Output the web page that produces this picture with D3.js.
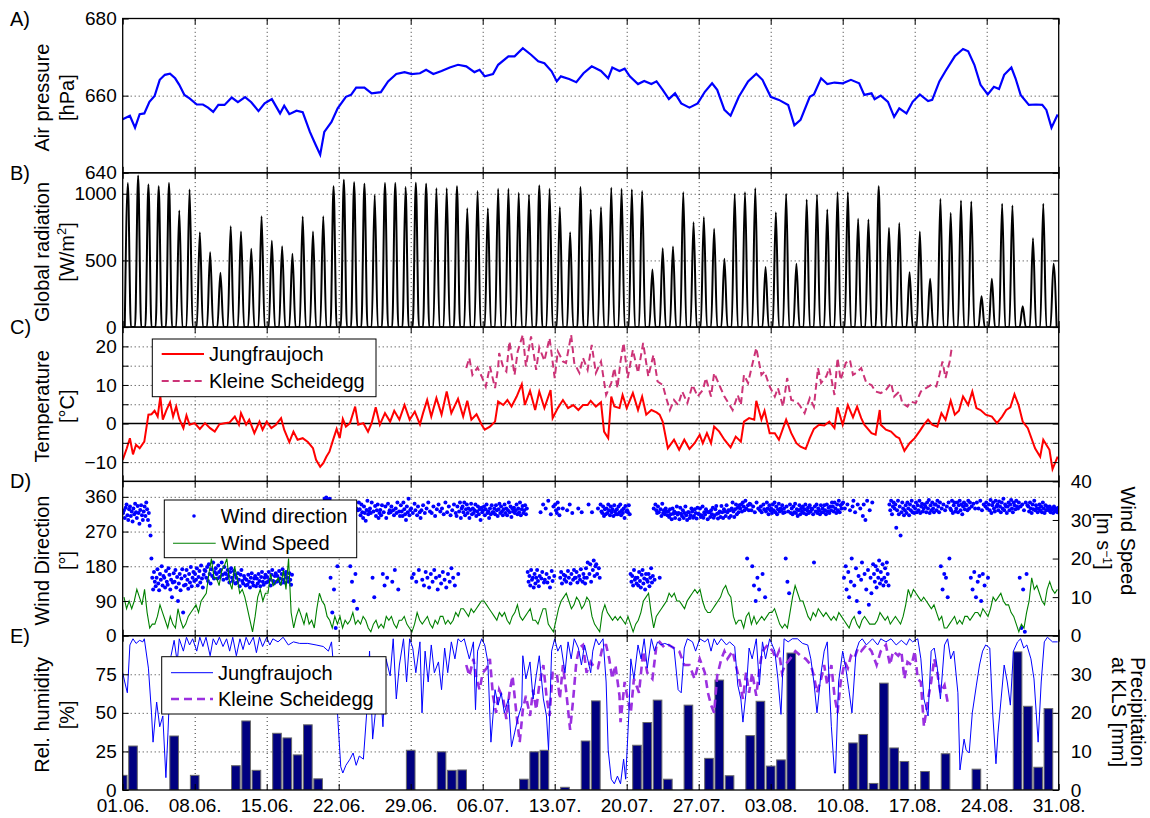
<!DOCTYPE html>
<html><head><meta charset="utf-8">
<script src="https://cdn.jsdelivr.net/npm/d3@7"></script>
<style>
body{margin:0;background:#fff;}
svg text{font-family:"Liberation Sans",Arial,Helvetica,sans-serif;fill:#000;}
.grid line{stroke:#333;stroke-width:1;stroke-dasharray:1 3;}
.grid .domain{display:none;}
.ax .domain{display:none;}
.ax line{stroke:#000;stroke-width:1;}
</style></head><body>
<svg id="chart" width="1150" height="818"></svg>
<script>
// ---- time axis (days since 01.06.) ----
const weekDays = [0, 7, 14, 21, 28, 35, 42, 49, 56, 63, 70, 77, 84, 91];
const weekLabels = ["01.06.", "08.06.", "15.06.", "22.06.", "29.06.", "06.07.", "13.07.", "20.07.", "27.07.", "03.08.", "10.08.", "17.08.", "24.08.", "31.08."];

// ---- A) air pressure [day, hPa] ----
const pressure = [[0,653.9],[0.7,654.8],[1.2,651.7],[1.65,655.2],[2.1,655.4],[2.6,658.4],[3.1,659.9],[3.6,664.1],[4.1,665.4],[4.6,665.7],[5.1,664.5],[5.5,662.8],[6.0,660.2],[6.5,659.3],[7.2,657.7],[7.8,657.7],[8.3,656.9],[8.8,655.8],[9.3,657.6],[9.9,657.6],[10.6,659.5],[11.2,658.3],[11.9,659.6],[12.5,658.3],[13.2,656.0],[13.8,658.0],[14.5,659.1],[15.3,655.4],[15.7,657.4],[16.2,655.2],[16.9,656.1],[17.5,655.7],[18.2,650.6],[18.7,647.6],[19.2,644.7],[19.6,650.6],[20.3,653.2],[20.9,656.7],[21.7,659.7],[22.2,660.2],[22.7,662.1],[23.5,662.1],[24.2,660.6],[25.1,660.9],[25.8,663.7],[26.6,665.6],[27.4,666.1],[28.1,665.6],[28.9,665.8],[29.5,666.7],[30.2,665.6],[31.0,666.4],[31.8,667.3],[32.6,668.0],[33.4,667.6],[34.2,666.1],[34.7,666.7],[35.2,665.0],[36.0,665.6],[36.5,668.0],[37.5,670.2],[38.1,670.2],[38.9,672.3],[39.7,670.6],[40.4,668.9],[41.0,668.4],[41.7,666.3],[42.2,663.7],[42.6,665.0],[43.4,664.3],[44.1,663.5],[44.8,665.8],[45.6,667.6],[46.5,666.4],[47.2,664.5],[47.6,667.3],[48.3,666.4],[48.8,667.0],[49.3,665.0],[50.1,663.0],[50.7,663.8],[51.4,663.0],[51.9,663.7],[52.5,661.5],[53.1,659.1],[53.7,660.6],[54.3,658.0],[55.1,656.9],[55.9,658.0],[56.6,661.0],[57.3,663.2],[57.8,661.5],[58.5,656.3],[59.1,654.8],[59.9,659.7],[60.8,663.7],[61.6,665.7],[62.2,664.1],[63.0,659.7],[63.8,658.9],[64.7,657.6],[65.3,652.3],[65.9,653.7],[66.8,659.7],[67.2,660.3],[67.9,664.5],[68.5,663.0],[69.2,663.4],[70.0,663.2],[70.8,664.1],[71.6,663.2],[72.1,660.2],[72.8,660.6],[73.1,659.1],[73.7,660.0],[74.4,658.4],[75.0,654.5],[75.5,656.7],[76.2,655.4],[76.8,658.4],[77.5,660.3],[78.3,658.6],[78.7,658.9],[79.4,663.7],[80.0,666.4],[80.9,670.2],[81.7,672.1],[82.2,671.5],[82.8,668.0],[83.4,662.8],[84.1,660.3],[84.7,662.3],[85.2,661.7],[85.7,665.4],[86.4,667.3],[86.8,664.5],[87.3,660.2],[88.1,657.6],[88.8,657.7],[89.4,657.6],[89.8,656.3],[90.3,651.7],[90.9,655.1]];
const pressureTicks = [640, 660, 680];

// ---- B) global radiation: daily noon maximum [W/m2] ----
const radPeak = [1080,1137,1070,1057,1080,875,1032,712,562,407,757,717,587,832,647,607,550,830,717,832,1057,1105,1087,1075,992,1080,1080,1050,1082,1075,1042,1042,1057,892,1020,892,1037,1037,1007,995,1062,1037,900,712,1050,882,
900,1045,1037,1032,1020,432,592,605,1012,787,825,737,512,1000,1012,1042,450,862,1000,475,957,995,882,1012,1012,812,807,1057,745,780,412,717,362,962,857,950,942,232,362,925,912,157,667,925,475];
const sunrise = 0.2, noon = 0.5, sunset = 0.8;   // fraction of the day
const radTicks = [0, 500, 1000];

// ---- C) temperature [day, °C] ----
const tempJfj = [[0,-9.4],[0.4,-6.4],[0.7,-3.8],[1.0,-8.0],[1.3,-5.5],[1.65,-6.4],[2.1,-4.7],[2.5,2.3],[2.8,2.4],[3.1,3.3],[3.4,1.8],[3.66,7.0],[3.9,1.0],[4.25,3.5],[4.6,5.5],[4.9,1.8],[5.2,4.4],[5.5,1.2],[5.9,-1.2],[6.2,2.1],[6.5,-0.3],[7.0,0.1],[7.5,-1.4],[8.0,0.1],[8.5,-1.2],[8.95,-2.1],[9.4,-0.2],[9.9,0.1],[10.4,0.3],[10.9,1.8],[11.3,-0.3],[11.5,2.7],[12.0,-0.3],[12.3,1.0],[12.8,-2.5],[13.3,0.5],[13.6,-1.6],[14.0,0.5],[14.45,-1.2],[14.9,-0.3],[15.4,1.4],[15.7,-1.6],[16.2,-4.8],[16.6,-2.1],[17.0,-4.2],[17.5,-3.8],[18.0,-4.8],[18.5,-6.4],[18.8,-9.4],[19.2,-11.2],[19.5,-10.3],[19.8,-8.6],[20.1,-7.3],[20.4,-4.7],[20.8,-1.4],[21.1,-3.8],[21.4,1.2],[21.7,-0.8],[22.1,0.1],[22.6,4.4],[22.9,-0.3],[23.4,0.1],[23.85,-2.1],[24.2,0.1],[24.6,4.2],[25.0,-0.3],[25.5,2.7],[26.0,0.5],[26.4,3.3],[26.9,1.0],[27.4,4.8],[27.9,1.0],[28.4,3.1],[28.9,-0.2],[29.2,2.7],[29.6,6.1],[30.0,1.8],[30.5,6.6],[31.0,2.3],[31.5,8.3],[31.95,2.7],[32.6,6.4],[33.1,1.8],[33.5,5.9],[33.9,1.0],[34.4,2.4],[34.9,-0.3],[35.2,-1.6],[35.7,-0.8],[36.2,0.5],[36.5,5.7],[37.0,4.8],[37.4,6.1],[37.8,4.4],[38.3,7.0],[38.8,10.2],[39.1,4.8],[39.6,8.5],[40.1,3.5],[40.5,8.3],[41.0,4.0],[41.6,8.7],[41.8,1.4],[42.3,4.0],[42.8,6.1],[43.3,4.0],[43.8,4.8],[44.3,3.5],[44.75,4.8],[45.2,4.8],[45.5,5.9],[46.0,4.4],[46.5,5.5],[46.8,-2.1],[47.2,-3.8],[47.5,7.0],[47.8,4.4],[48.3,4.0],[48.6,7.4],[49.0,4.0],[49.6,7.9],[50.1,3.5],[50.5,7.0],[50.9,2.3],[51.4,3.5],[51.9,2.9],[52.2,2.3],[52.5,0.5],[53.0,-6.4],[53.6,-4.2],[54.1,-6.8],[54.6,-4.2],[55.1,-6.6],[55.6,-5.1],[56.1,-2.9],[56.4,-5.1],[56.8,-2.5],[57.2,-5.1],[57.5,-0.8],[58.0,-2.1],[58.5,-4.2],[59.1,-6.2],[59.6,-3.4],[60.1,-4.7],[60.4,0.5],[60.9,1.4],[61.4,1.0],[61.6,5.9],[62.1,1.0],[62.4,3.3],[62.9,-2.5],[63.4,-2.5],[63.8,-4.2],[64.5,1.0],[65.0,-2.5],[65.5,-5.1],[65.9,-6.0],[66.4,-6.6],[66.8,-3.8],[67.2,-1.4],[67.7,-0.3],[68.2,-0.5],[68.7,0.5],[69.2,-1.2],[69.5,4.2],[70.0,-0.3],[70.5,4.8],[71.0,1.6],[71.4,4.4],[71.8,1.4],[72.1,-0.3],[72.8,-2.5],[73.2,-2.9],[73.6,3.5],[73.7,-0.3],[74.2,-1.6],[74.7,-2.1],[75.2,-3.4],[75.5,-3.8],[76.0,-7.1],[76.5,-5.1],[77.0,-3.8],[77.5,-1.9],[77.9,-0.3],[78.3,1.0],[78.7,-0.3],[79.2,-0.8],[79.6,2.7],[80.0,1.0],[80.5,5.9],[80.9,2.3],[81.3,3.3],[81.7,7.0],[82.2,4.8],[82.6,8.3],[83.0,4.0],[83.4,3.5],[83.9,2.3],[84.5,1.8],[85.0,0.1],[85.5,1.8],[85.9,3.5],[86.3,4.2],[86.7,7.6],[87.1,4.8],[87.5,0.5],[88.0,-1.2],[88.7,-6.4],[89.2,-8.6],[89.5,-4.2],[90.1,-6.8],[90.4,-11.8],[90.9,-8.6]];
const tempKls = [[33.4,14.4],[33.7,17.0],[34.0,12.6],[34.5,14.5],[34.9,12.2],[35.3,9.6],[35.7,14.8],[36.2,9.2],[36.5,14.5],[36.6,18.3],[37.0,14.5],[37.3,13.5],[37.6,21.3],[38.1,12.6],[38.4,18.7],[38.9,23.0],[39.2,14.8],[39.7,22.6],[40.2,13.9],[40.5,19.7],[41.0,16.3],[41.5,22.2],[42.0,11.8],[42.3,18.7],[42.8,16.1],[43.1,15.7],[43.6,23.0],[43.9,15.7],[44.4,13.1],[44.75,17.0],[45.2,13.9],[45.6,20.4],[46.0,13.1],[46.5,16.1],[47.0,7.4],[47.5,10.5],[47.8,14.4],[48.1,9.2],[48.4,16.1],[48.7,20.9],[49.1,11.8],[49.6,19.1],[50.1,13.1],[50.6,20.9],[51.1,12.2],[51.6,17.8],[52.0,10.9],[52.5,10.0],[52.8,7.0],[53.2,3.5],[53.6,6.1],[54.0,4.8],[54.4,8.3],[54.9,5.3],[55.4,10.0],[55.9,7.0],[56.4,8.7],[56.7,11.8],[57.2,7.0],[57.5,13.1],[58.0,10.0],[58.5,7.0],[58.8,5.7],[59.3,3.5],[59.8,7.4],[60.1,4.8],[60.4,12.6],[60.8,10.5],[61.2,15.2],[61.6,19.6],[62.1,12.6],[62.4,13.5],[62.9,9.6],[63.4,7.0],[63.7,9.2],[64.2,4.4],[64.6,11.8],[65.0,6.1],[65.5,5.7],[65.8,4.8],[66.3,2.7],[66.8,6.6],[67.2,4.4],[67.6,14.4],[67.9,10.5],[68.4,12.2],[68.7,14.4],[69.2,7.4],[69.5,17.0],[69.8,11.3],[70.3,15.7],[70.7,16.5],[71.0,12.6],[71.3,13.1],[71.8,14.4],[72.3,10.5],[72.8,10.0],[73.2,8.3],[73.7,7.9],[74.2,8.7],[74.7,10.5],[75.0,7.0],[75.5,8.3],[75.8,5.3],[76.3,4.4],[76.6,5.7],[77.1,5.3],[77.6,8.3],[78.1,9.2],[78.6,10.0],[79.1,9.6],[79.4,12.6],[79.7,16.1],[80.0,11.8],[80.4,16.1],[80.6,19.6]];
const tempTicks = [-10, -5, 0, 5, 10, 15, 20];
const tempTickLabels = ["\u221210", "", "0", "", "10", "", "20"];

// ---- D) wind direction [°], 2-hourly, one row per day (null = no data) ----
const windDir = [
318,325,305,332,340,312,300,328,335,310,322,296,
330,315,342,320,305,336,318,290,326,338,312,300,
322,335,310,345,328,300,318,285,260,200,150,120,
165,140,128,150,172,135,118,160,145,180,130,155,
150,125,168,140,132,175,158,120,145,100,138,162,
140,170,125,152,90,135,160,118,148,172,60,130,
155,132,170,145,122,160,138,178,128,150,165,142,
160,145,175,130,152,168,138,182,148,125,158,170,
168,150,178,142,185,160,135,172,155,190,148,165,
175,160,148,182,165,152,170,190,158,145,178,162,
160,148,170,155,138,165,175,150,142,168,158,135,
150,138,162,145,128,158,170,142,135,155,148,130,
145,132,158,140,125,150,162,138,130,148,155,128,
148,135,160,142,128,152,165,140,132,150,158,138,
152,140,165,145,130,158,170,142,135,155,162,140,
155,142,168,148,135,160,172,145,138,158,165,150,
150,140,162,145,132,158,null,null,null,null,null,null,
null,null,null,null,null,null,null,null,null,null,null,null,
null,null,null,null,null,null,null,null,null,null,null,null,
null,null,null,null,null,null,null,355,350,358,345,352,
340,355,150,330,60,345,120,325,20,338,180,320,
330,318,342,325,310,335,320,300,328,345,315,322,
335,180,320,140,342,90,318,160,330,70,325,345,
328,312,340,320,305,335,318,298,326,350,315,322,
330,318,345,150,322,100,336,310,325,340,305,318,
326,312,338,160,320,130,335,305,150,342,318,325,
320,335,140,325,312,170,330,318,345,120,322,310,
338,322,310,345,328,315,300,335,320,355,312,326,
330,150,318,160,342,325,140,312,335,170,320,305,
325,145,338,130,318,165,330,150,345,125,322,160,
318,140,335,170,310,150,328,120,340,155,322,135,
330,165,315,145,345,125,320,160,335,140,312,175,
325,150,340,130,318,310,335,160,322,345,305,330,
335,320,345,312,328,340,318,330,305,326,342,315,
330,318,325,340,310,322,335,315,328,300,332,320,
325,335,312,328,340,318,322,305,330,315,338,320,
320,330,315,338,325,310,328,342,318,335,322,312,
328,340,318,330,312,325,345,320,335,308,330,322,
332,318,325,340,315,330,320,345,312,328,336,318,
325,338,315,330,165,140,155,130,170,145,150,125,
160,135,150,170,142,128,155,320,148,165,340,138,
145,330,160,138,350,150,125,315,168,142,335,155,
340,325,318,345,330,312,150,165,135,330,158,145,
155,140,325,168,150,340,135,160,318,145,170,150,
150,165,138,330,155,145,172,320,140,160,150,135,
175,150,190,340,160,185,140,320,170,195,155,180,
185,160,330,175,150,340,322,318,335,310,328,315,
330,318,340,325,312,335,320,328,310,338,322,315,
328,315,335,320,340,312,325,318,330,305,336,322,
325,320,338,315,160,140,155,130,170,145,150,135,
150,130,165,142,125,158,170,135,148,120,160,145,
140,160,128,150,175,138,155,330,145,340,325,318,
335,320,150,328,310,342,318,325,315,330,322,312,
322,308,328,315,302,330,316,322,305,318,335,314,
318,302,332,316,310,325,305,318,335,312,300,320,
320,305,312,330,322,306,310,328,318,304,332,316,
315,330,308,312,335,306,320,314,328,322,302,320,
320,308,325,315,332,306,312,328,336,316,304,318,
322,308,336,320,305,328,322,310,338,320,325,306,
325,310,330,345,322,308,328,340,315,332,320,338,
330,340,322,345,335,325,350,330,200,338,325,342,
340,325,180,335,130,320,90,345,150,330,120,325,
335,320,160,340,328,100,322,345,330,315,338,325,
330,318,340,325,345,320,335,315,328,342,322,330,
325,338,318,330,320,200,335,140,322,110,340,318,
330,315,335,320,342,318,328,310,325,338,315,330,
322,335,318,328,340,315,325,332,318,338,322,330,
328,315,190,335,322,340,318,330,325,315,338,320,
330,320,338,325,315,340,322,332,318,335,325,345,
335,322,345,330,318,340,325,350,320,338,330,342,
345,150,330,180,120,340,165,100,325,140,200,335,
350,130,320,175,90,340,155,60,330,145,190,310,
340,160,300,120,350,170,80,325,150,110,345,185,
160,140,180,125,170,150,195,135,165,145,185,130,
150,175,140,190,160,130,340,325,350,315,335,345,
330,340,280,325,350,315,335,260,320,345,330,312,
325,338,318,345,330,312,340,325,350,320,335,318,
330,345,320,338,325,350,318,335,342,322,330,340,
335,320,345,330,352,318,338,325,345,330,320,340,
340,325,350,335,320,345,180,330,120,340,160,325,
150,335,100,345,200,330,325,350,318,338,345,322,
330,345,320,338,350,325,340,315,335,345,328,340,
338,325,350,330,345,150,335,120,342,165,330,100,
345,140,330,155,350,90,325,160,340,130,335,345,
330,150,340,325,352,318,338,345,330,322,350,335,
340,325,348,335,320,345,330,355,325,340,335,318,
335,345,325,340,352,330,320,345,338,328,350,335,
330,345,150,335,20,340,120,325,10,345,160,338,
335,322,345,330,318,340,328,350,325,338,330,320,
330,340,325,335,320,345,330,318,338,325,335,328,
325,335,320,330,328,318,335,322,330,325,320,332];
const dirPerDay = 12;
const dirTicks = [0, 90, 180, 270, 360];

// ---- D) wind speed [m/s], 6-hourly ----
const windSpeed = [
10,7,9,7, 9,12,10,8, 12,6,2,3, 3,5,8,6, 4,2,5,3, 2,7,4,2, 3,5,6,7, 8,6,9,10, 11,16,20,15, 15,13,17,18,
20,14,12,18, 15,11,12,10, 7,4,1,5, 10,12,9,11, 11,16,13,14, 15,13,17,12, 20,6,2,5, 7,5,3,6, 3,4,2,7, 11,9,8,5,
4,2,5,3, 5,2,4,3, 4,6,3,4, 3,5,4,2, 1,3,4,2, 3,2,5,4, 5,3,2,4, 4,5,3,2, 1,3,6,4, 3,4,5,3,
2,4,3,5, 5,3,4,3, 4,6,5,7, 7,6,5,7, 6,7,8,9, 9,8,7,6, 5,4,6,5, 6,4,3,5, 6,8,5,4, 5,6,7,4,
4,3,5,7, 7,3,2,1, 4,7,9,10, 11,9,7,8, 10,9,7,8, 10,9,5,3, 2,1,6,8, 6,5,4,5, 4,5,4,3, 5,3,1,3,
4,6,9,10, 11,6,2,5, 6,7,8,9, 11,10,11,9, 9,8,7,9, 10,11,12,11, 12,9,7,6, 6,7,8,9, 10,12,13,11, 10,5,3,4,
4,2,5,6, 3,5,3,4, 5,4,5,6, 6,7,5,3, 2,3,2,6, 10,13,11,9, 9,7,5,4, 6,5,7,6, 5,6,5,4, 5,4,6,5,
4,3,2,4, 5,3,2,4, 5,4,3,3, 3,4,6,5, 4,5,3,4, 5,4,3,5, 8,12,10,12, 11,10,9,10, 9,8,7,8, 6,4,5,2,
2,3,4,5, 3,4,3,5, 5,4,5,6, 6,5,7,6, 5,7,10,9, 10,11,9,8, 8,6,5,3, 1,3,2,6, 9,15,12,13, 11,9,8,12,
14,12,11,12];
const speedPerDay = 4;
const speedTicks = [0, 10, 20, 30, 40];

// ---- E) relative humidity [day, %] ----
const rhJfj = [[0,76],[0.2,70],[0.45,63],[0.7,94],[1.0,98],[1.3,95],[1.65,97],[1.95,96],[2.1,98],[2.5,79],[2.8,50],[2.95,31],[3.3,57],[3.6,41],[3.9,48],[4.2,8],[4.4,37],[4.7,87],[5.0,97],[5.3,83],[5.5,98],[5.9,90],[6.2,99],[6.5,94],[6.8,98],[7.2,90],[7.5,99],[7.8,93],[8.1,99],[8.5,87],[8.8,98],[9.1,94],[9.4,99],[9.75,93],[10.1,98],[10.4,90],[10.7,99],[11.05,87],[11.4,98],[11.7,91],[12.0,99],[12.3,94],[12.7,99],[13.0,89],[13.3,99],[13.6,93],[14.0,99],[14.3,94],[14.6,98],[15.1,96],[15.6,99],[16.1,94],[16.6,96],[17.2,95],[18.0,95],[18.8,94],[19.5,93],[20.0,90],[20.3,96],[20.6,72],[20.9,48],[21.2,15],[21.4,11],[21.7,16],[22.1,20],[22.4,24],[22.7,16],[23.0,22],[23.4,20],[23.7,48],[24.0,90],[24.3,33],[24.7,59],[25.0,72],[25.3,41],[25.6,85],[26.0,74],[26.3,98],[26.6,59],[26.9,81],[27.3,98],[27.6,70],[27.9,98],[28.2,92],[28.5,76],[28.9,96],[29.1,50],[29.4,90],[29.7,70],[30.0,94],[30.3,76],[30.7,83],[31.0,65],[31.3,92],[31.6,76],[31.95,96],[32.3,85],[32.6,98],[32.9,96],[33.2,98],[33.7,85],[34.1,96],[34.3,52],[34.5,90],[34.9,98],[35.2,94],[35.5,83],[35.8,31],[36.2,65],[36.5,55],[36.8,63],[37.1,50],[37.5,59],[37.8,28],[38.1,37],[38.4,46],[38.8,55],[38.9,87],[39.2,72],[39.6,83],[39.9,59],[40.2,74],[40.5,87],[40.9,59],[41.2,48],[41.4,26],[41.7,90],[42.0,98],[42.3,90],[42.6,94],[43.0,76],[43.3,96],[43.6,85],[43.9,98],[44.3,92],[44.6,81],[44.9,94],[45.2,85],[45.5,76],[45.7,90],[46.0,98],[46.3,94],[46.7,98],[47.0,70],[47.2,26],[47.5,7],[47.8,4],[48.1,9],[48.4,4],[48.7,20],[48.9,7],[49.2,48],[49.4,85],[49.7,72],[50.1,94],[50.4,85],[50.7,98],[51.0,79],[51.4,98],[51.7,90],[52.0,96],[52.3,94],[52.7,95],[53.1,94],[53.6,92],[54.0,65],[54.3,63],[54.6,92],[54.9,98],[55.4,96],[55.7,90],[56.1,98],[56.6,96],[56.9,98],[57.2,90],[57.5,98],[57.8,94],[58.2,98],[58.7,94],[59.0,96],[59.5,93],[59.8,68],[60.1,59],[60.3,44],[60.6,63],[60.9,92],[61.2,85],[61.6,98],[61.9,68],[62.2,96],[62.5,85],[62.9,98],[63.4,90],[63.7,72],[64.0,49],[64.3,98],[64.7,96],[65.1,98],[65.6,98],[66.1,95],[66.6,94],[66.9,85],[67.2,70],[67.5,50],[67.9,76],[68.2,90],[68.5,96],[68.9,41],[69.2,11],[69.3,11],[69.6,70],[70.0,90],[70.3,79],[70.6,65],[70.9,50],[71.3,90],[71.6,96],[71.9,98],[72.3,94],[72.6,96],[72.9,98],[73.4,94],[73.7,98],[74.2,96],[74.7,98],[75.2,94],[75.7,97],[76.2,94],[76.5,98],[76.8,96],[77.3,98],[77.6,85],[77.9,59],[78.3,48],[78.6,90],[78.9,92],[79.2,79],[79.5,59],[79.9,94],[80.2,98],[80.5,85],[80.8,90],[81.2,63],[81.4,13],[81.8,33],[82.0,26],[82.3,24],[82.6,50],[83.0,68],[83.3,81],[83.6,90],[83.9,94],[84.3,92],[84.6,48],[84.9,17],[85.1,37],[85.4,59],[85.7,81],[86.0,70],[86.3,55],[86.6,90],[87.0,96],[87.3,98],[87.6,92],[87.9,94],[88.3,85],[88.6,72],[89.0,31],[89.3,70],[89.6,96],[89.9,99],[90.4,96],[90.9,96]];
const rhKls = [[33.4,81],[33.7,74],[34.1,85],[34.4,72],[34.7,65],[35.0,76],[35.4,79],[35.7,85],[36.0,61],[36.3,50],[36.6,65],[37.0,59],[37.3,46],[37.6,63],[37.9,74],[38.3,48],[38.6,31],[38.9,52],[39.2,61],[39.6,48],[39.9,65],[40.2,52],[40.5,68],[40.9,81],[41.2,61],[41.5,48],[41.8,76],[42.2,76],[42.5,59],[42.8,81],[43.1,65],[43.5,39],[43.8,59],[44.1,83],[44.4,92],[44.75,94],[45.1,76],[45.5,83],[45.9,79],[46.2,79],[46.7,94],[47.0,94],[47.3,85],[47.6,72],[47.9,81],[48.3,61],[48.4,44],[48.8,70],[49.1,59],[49.4,50],[49.7,72],[50.2,63],[50.6,90],[51.0,76],[51.5,72],[51.9,94],[52.2,96],[52.7,92],[53.1,94],[53.6,92],[54.1,90],[54.6,81],[55.1,81],[55.6,72],[56.1,85],[56.6,76],[56.9,63],[57.2,55],[57.5,50],[57.8,74],[58.2,85],[58.5,90],[58.8,85],[59.3,90],[59.6,81],[60.0,70],[60.3,59],[60.6,76],[60.9,63],[61.2,76],[61.6,61],[61.9,79],[62.2,90],[62.7,94],[63.2,90],[63.5,85],[63.8,90],[64.1,76],[64.4,81],[64.9,85],[65.4,90],[65.9,87],[66.4,85],[66.9,81],[67.2,74],[67.5,63],[67.9,72],[68.2,81],[68.5,68],[68.9,81],[69.2,61],[69.5,50],[69.8,70],[70.2,83],[70.5,79],[70.8,87],[71.1,85],[71.5,92],[71.8,90],[72.3,94],[72.8,90],[73.3,81],[73.7,90],[74.2,94],[74.6,81],[74.9,90],[75.4,87],[75.7,90],[76.0,72],[76.3,83],[76.7,81],[77.0,90],[77.3,72],[77.6,70],[77.9,41],[78.3,59],[78.6,70],[78.9,85],[79.2,76],[79.5,63],[79.9,68],[80.2,57]];
const rhTicks = [0, 25, 50, 75];

// ---- E) daily precipitation at Kleine Scheidegg [mm] ----
const precip = [3.8,11.4,0,0,0,14.0,0,3.8,0,0,
0,6.3,17.9,5.1,0,14.7,13.5,9.1,16.9,2.9,
0,0,0,0,0,0,0,0,10.3,0,
0,9.9,5.1,5.2,0,0,0,0,0,2.8,
9.9,10.3,0,0.7,0,12.7,23.1,0,0,0,
11.6,17.5,23.3,2.8,0,22.0,0,8.2,28.5,3.7,
0,14.1,23.0,6.2,7.8,35.5,0,0,0,0,
0,12.2,14.4,1.7,27.7,10.9,7.4,0,4.8,0,
9.4,0,0,5.4,0,0,0,35.8,21.7,5.9,
21.1];
const precipTicks = [0, 10, 20, 30];

// ================= drawing =================
const svg = d3.select("#chart");
const L = 122.7, R = 1058.7, TOP = 18.5, PH = 154.3;
const FONT = "'Liberation Sans', Arial, Helvetica, sans-serif";
const x = d3.scaleLinear().domain([0, 91]).range([L, R]);
const defs = svg.append("defs");

function makePanel(i) {
  const top = TOP + i * PH, bottom = top + PH;
  defs.append("clipPath").attr("id", "clip" + i).append("rect")
    .attr("x", L).attr("y", top).attr("width", R - L).attr("height", PH);
  const g = svg.append("g");
  return { i, top, bottom, g, clip: "url(#clip" + i + ")" };
}
function yScale(p, dom) { return d3.scaleLinear().domain(dom).range([p.bottom, p.top]); }

function grid(p, y, hVals) {
  p.g.append("g").attr("class", "grid").attr("transform", `translate(0,${p.bottom})`)
    .call(d3.axisBottom(x).tickValues(weekDays.slice(1, -1)).tickSize(-PH).tickFormat(""));
  if (hVals) p.g.append("g").attr("class", "grid").attr("transform", `translate(${L},0)`)
    .call(d3.axisLeft(y).tickValues(hVals).tickSize(-(R - L)).tickFormat(""));
}
function styleAxis(sel) { sel.attr("font-size", 19).attr("font-family", FONT); sel.selectAll("text").attr("fill", "#000"); }

function frame(p, opts) {
  const a = svg.append("g");
  // x ticks (inward) top and bottom
  a.append("g").attr("class", "ax").attr("transform", `translate(0,${p.bottom})`)
    .call(d3.axisBottom(x).tickValues(weekDays).tickSize(-6).tickPadding(9)
      .tickFormat((d, k) => opts.xLabels ? weekLabels[k] : ""))
    .call(styleAxis);
  a.append("g").attr("class", "ax").attr("transform", `translate(0,${p.top})`)
    .call(d3.axisTop(x).tickValues(weekDays).tickSize(-6).tickFormat(""));
  // left axis
  a.append("g").attr("class", "ax").attr("transform", `translate(${L},0)`)
    .call(d3.axisLeft(opts.yl).tickValues(opts.lTicks).tickSize(-6).tickPadding(6)
      .tickFormat((d, k) => opts.lLabels ? opts.lLabels[k] : ""))
    .call(styleAxis);
  // right axis
  a.append("g").attr("class", "ax").attr("transform", `translate(${R},0)`)
    .call(d3.axisRight(opts.yr).tickValues(opts.rTicks).tickSize(-6).tickPadding(12)
      .tickFormat((d, k) => opts.rLabels ? opts.rLabels[k] : ""))
    .call(styleAxis);
  a.append("rect").attr("x", L).attr("y", p.top).attr("width", R - L).attr("height", PH)
    .attr("fill", "none").attr("stroke", "#000").attr("stroke-width", 1.3);
  svg.append("text").attr("x", 10).attr("y", p.top + 7).attr("font-size", 20).text(opts.letter);
}

function leftLabel(p, line1, line2, sup) {
  const cy = (p.top + p.bottom) / 2 + 2;
  svg.append("text").attr("transform", `translate(49,${cy}) rotate(-90)`).attr("text-anchor", "middle")
    .attr("font-size", 20).text(line1);
  const t = svg.append("text").attr("transform", `translate(74,${cy}) rotate(-90)`).attr("text-anchor", "middle")
    .attr("font-size", 20);
  t.append("tspan").text(line2);
  if (sup) {
    t.append("tspan").attr("dy", -8).attr("font-size", 13).text(sup);
    t.append("tspan").attr("dy", 8).text("]");
  }
}
function rightLabel(cy, xb1, line1, xb2, parts) {
  svg.append("text").attr("transform", `translate(${xb1},${cy}) rotate(90)`).attr("text-anchor", "middle")
    .attr("font-size", 20).text(line1);
  const t = svg.append("text").attr("transform", `translate(${xb2},${cy}) rotate(90)`).attr("text-anchor", "middle")
    .attr("font-size", 20);
  parts.forEach(pt => {
    const s = t.append("tspan").text(pt.t);
    if (pt.dy) s.attr("dy", pt.dy);
    if (pt.fs) s.attr("font-size", pt.fs);
  });
}

const line = (xs, ys) => d3.line().x(d => xs(d[0])).y(d => ys(d[1]));

// ----- A -----
const pA = makePanel(0);
const yA = yScale(pA, [640, 680]);
grid(pA, yA, [660]);
pA.g.append("path").datum(pressure).attr("clip-path", pA.clip)
  .attr("d", line(x, yA)).attr("fill", "none").attr("stroke", "#0000ff").attr("stroke-width", 2.2);
frame(pA, { letter: "A)", yl: yA, yr: yA, lTicks: pressureTicks, lLabels: pressureTicks.map(String), rTicks: pressureTicks });
leftLabel(pA, "Air pressure", "[hPa]");

// ----- B -----
const pB = makePanel(1);
const yB = yScale(pB, [0, 1157]);
grid(pB, yB, [500, 1000]);
const radPts = [];
radPeak.forEach((pk, d) => { radPts.push([d + sunrise, 0], [d + noon, pk], [d + sunset, 0]); });
pB.g.append("path").datum(radPts).attr("clip-path", pB.clip)
  .attr("d", line(x, yB).curve(d3.curveMonotoneX)).attr("fill", "none").attr("stroke", "#000").attr("stroke-width", 2);
frame(pB, { letter: "B)", yl: yB, yr: yB, lTicks: radTicks, lLabels: radTicks.map(String), rTicks: radTicks });
leftLabel(pB, "Global radiation", "[W/m", "2");

// ----- C -----
const pC = makePanel(2);
const yC = yScale(pC, [-15, 25]);
grid(pC, yC, tempTicks.filter(v => v !== 0));
pC.g.append("path").datum([[0, 0], [91, 0]]).attr("d", line(x, yC)).attr("stroke", "#000").attr("stroke-width", 1.6);
pC.g.append("path").datum(tempKls).attr("clip-path", pC.clip)
  .attr("d", line(x, yC)).attr("fill", "none").attr("stroke", "#cc3377").attr("stroke-width", 2).attr("stroke-dasharray", "7 4");
pC.g.append("path").datum(tempJfj).attr("clip-path", pC.clip)
  .attr("d", line(x, yC)).attr("fill", "none").attr("stroke", "#ff0000").attr("stroke-width", 2);
frame(pC, { letter: "C)", yl: yC, yr: yC, lTicks: tempTicks, lLabels: tempTickLabels, rTicks: tempTicks });
leftLabel(pC, "Temperature", "[\u00b0C]");

// ----- D -----
const pD = makePanel(3);
const yD = yScale(pD, [0, 400]);
const yD2 = yScale(pD, [0, 40]);
grid(pD, yD, dirTicks.slice(1));
const dirPts = windDir.map((v, k) => [k / dirPerDay + 0.5 / dirPerDay, v]).filter(d => d[1] != null);
pD.g.append("g").attr("clip-path", pD.clip).selectAll("circle").data(dirPts).join("circle")
  .attr("cx", d => x(d[0])).attr("cy", d => yD(d[1])).attr("r", 2).attr("fill", "#0000ff");
const speedPts = windSpeed.map((v, k) => [k / speedPerDay + 0.5 / speedPerDay, v]);
pD.g.append("path").datum(speedPts).attr("clip-path", pD.clip)
  .attr("d", line(x, yD2)).attr("fill", "none").attr("stroke", "#008000").attr("stroke-width", 1.1);
frame(pD, { letter: "D)", yl: yD, yr: yD2, lTicks: dirTicks, lLabels: dirTicks.map(String), rTicks: speedTicks, rLabels: speedTicks.map(String) });
leftLabel(pD, "Wind Direction", "[\u00b0]");
rightLabel(541, 1121, "Wind Speed", 1097, [{ t: "[m s" }, { t: "\u22121", dy: -6, fs: 12 }, { t: "]", dy: 6 }]);

// ----- E -----
const pE = makePanel(4);
const yE = yScale(pE, [0, 100]);
const yE2 = yScale(pE, [0, 40]);
grid(pE, yE, rhTicks.slice(1));
const barW = x(0.84) - x(0);
pE.g.append("g").attr("clip-path", pE.clip).selectAll("rect").data(precip.map((v, d) => [d, v]).filter(d => d[1] > 0)).join("rect")
  .attr("x", d => x(d[0]) - barW / 2).attr("width", barW)
  .attr("y", d => yE2(d[1])).attr("height", d => yE2(0) - yE2(d[1]))
  .attr("fill", "#000080").attr("stroke", "#6a6a6a").attr("stroke-width", 1);
pE.g.append("path").datum(rhKls).attr("clip-path", pE.clip)
  .attr("d", line(x, yE)).attr("fill", "none").attr("stroke", "#9b30e0").attr("stroke-width", 2.6).attr("stroke-dasharray", "8 5");
pE.g.append("path").datum(rhJfj).attr("clip-path", pE.clip)
  .attr("d", line(x, yE)).attr("fill", "none").attr("stroke", "#0000ff").attr("stroke-width", 1);
frame(pE, { letter: "E)", xLabels: true, yl: yE, yr: yE2, lTicks: rhTicks, lLabels: rhTicks.map(String), rTicks: precipTicks, rLabels: precipTicks.map(String) });
leftLabel(pE, "Rel. humidity", "[%]");
rightLabel(712, 1131, "Precipitation", 1112, [{ t: "at KLS [mm]" }]);

// ----- legends -----
function legend(bx, by, bw, bh, rows) {
  const g = svg.append("g");
  g.append("rect").attr("x", bx).attr("y", by).attr("width", bw).attr("height", bh)
    .attr("fill", "#fff").attr("stroke", "#000").attr("stroke-width", 1);
  rows.forEach(r => {
    if (r.dot) g.append("circle").attr("cx", r.x1 + (r.x2 - r.x1) / 2 + 10).attr("cy", r.y).attr("r", 1.8).attr("fill", r.color);
    else g.append("line").attr("x1", r.x1).attr("x2", r.x2).attr("y1", r.y).attr("y2", r.y)
      .attr("stroke", r.color).attr("stroke-width", r.w).attr("stroke-dasharray", r.dash || null);
    g.append("text").attr("x", r.tx).attr("y", r.y).attr("dy", "0.35em").attr("font-size", 20).text(r.label);
  });
}
legend(152.3, 339, 223.7, 57.7, [
  { x1: 161.7, x2: 204, y: 354, color: "#ff0000", w: 2, tx: 209, label: "Jungfraujoch" },
  { x1: 161.7, x2: 204, y: 381, color: "#cc3377", w: 2, dash: "7 4", tx: 209, label: "Kleine Scheidegg" }]);
legend(164.3, 500, 192.4, 57.7, [
  { dot: true, x1: 173, x2: 195, y: 516, color: "#0000ff", tx: 220.7, label: "Wind direction" },
  { x1: 173, x2: 215.7, y: 543.3, color: "#008000", w: 1.1, tx: 220.7, label: "Wind Speed" }]);
legend(161.7, 656.7, 224.3, 57.3, [
  { x1: 171, x2: 213, y: 672.7, color: "#0000ff", w: 1, tx: 218, label: "Jungfraujoch" },
  { x1: 171, x2: 213, y: 699, color: "#9b30e0", w: 2.6, dash: "8 5", tx: 218, label: "Kleine Scheidegg" }]);
</script>
</body></html>
